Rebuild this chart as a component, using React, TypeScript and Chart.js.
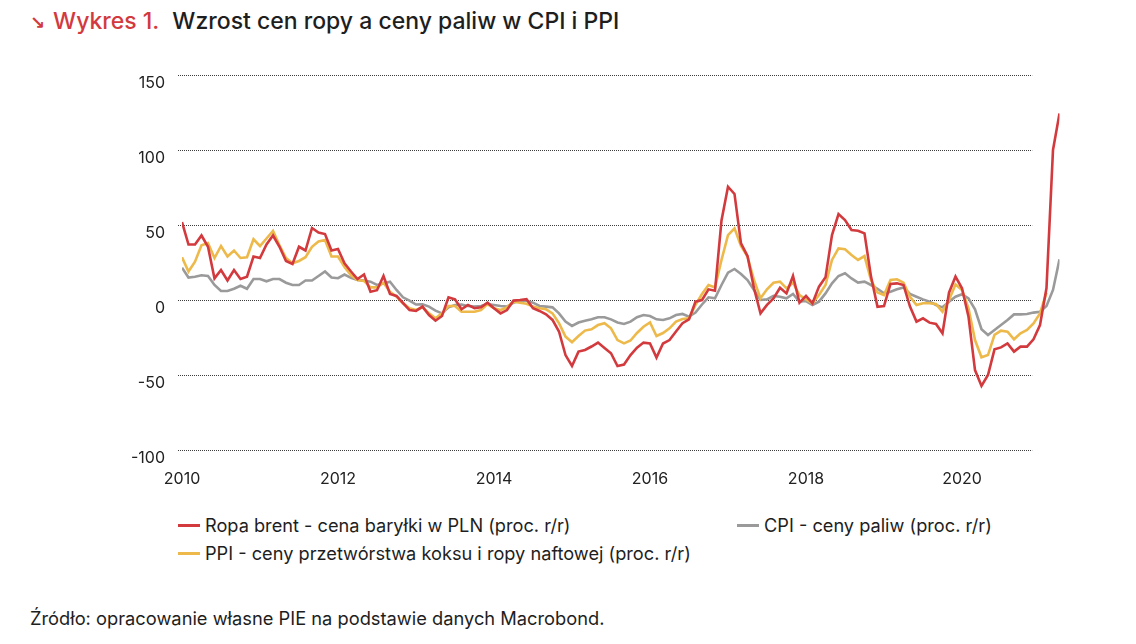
import React, { useEffect, useRef } from "react";
import { Chart, registerables } from "chart.js";

Chart.register(...registerables);

// ---- data (monthly, Jan 2010 = index 0) ----
const START_YEAR = 2010;
const yearTicks = [2010, 2012, 2014, 2016, 2018, 2020];
const yTicks = [-100, -50, 0, 50, 100, 150];

const seriesNames = [
  "Ropa brent - cena baryłki w PLN (proc. r/r)",
  "CPI - ceny paliw (proc. r/r)",
  "PPI - ceny przetwórstwa koksu i ropy naftowej (proc. r/r)",
];

const ropa = [
  52, 37, 37, 43, 35.5, 14.4, 20, 13, 20, 14, 15.5, 29,
  28, 37, 43, 35.5, 26, 24, 35.5, 33, 48, 45, 44, 33,
  34, 24.5, 19, 14, 17, 5.5, 6.5, 16, 4, 2.7, -2, -6.7,
  -7.3, -4.4, -10, -13.8, -10.7, 1.8, 0.4, -6.2, -3.3, -5.5, -4.9, -1.8,
  -5.5, -8.9, -6.7, -0.4, 0, 0.5, -5.5, -7.3, -9.5, -13.3, -21, -36.7,
  -44, -34.4, -33.3, -31, -28.4, -32, -35.5, -44, -43, -36.7, -31.8, -28.4,
  -29, -38.4, -29, -26.7, -21, -15.5, -12.9, -1.1, 0, 7.1, 6.2, 53,
  75.5, 70.7, 37.8, 29.3, 7.8, -8.9, -3.3, 1.1, 8.2, 4.4, 16, -1.8,
  2.7, -2.2, 8.9, 15.1, 43.3, 57.3, 53.3, 46.7, 46.2, 44.4, 15.6, -4.5,
  -4, 10.7, 11.1, 10, -4.4, -14.4, -12.2, -15.1, -16, -22.2, 4.9, 15.6,
  7.8, -11.1, -46.7, -57.3, -50, -32.9, -31.6, -28.9, -34.4, -31.1, -31.1, -26.2,
  -16.7, 8, 100, 124.4,
];

const cpi = [
  21.5, 15, 15.5, 16.5, 16, 10, 6, 6, 7.5, 9.5, 7.5, 14,
  14, 12.5, 14, 14, 11.5, 10, 10, 13, 13, 16, 19, 15,
  14.5, 17, 14.8, 13.3, 12.9, 12.2, 10, 11, 12.2, 6.7, 1.8, -0.4,
  -3, -2.9, -4.4, -7.1, -8.9, -4.9, -3.3, -3.1, -4, -4.4, -4, -2.7,
  -3.3, -4, -4.4, -1.8, -0.4, -0.5, -1.8, -4, -4.4, -4.9, -8.9, -14.4,
  -17.3, -15, -13.8, -12.9, -11.5, -11.5, -12.9, -15, -16, -14.4, -11.5, -10,
  -10.7, -12.9, -13.3, -12.2, -10, -9.3, -11.1, -8.4, -3, 1.8, 1.1, 10,
  18.2, 20.7, 17.3, 13.3, 6.7, 0, 0.4, 2.7, 2.2, 1.1, 4, -1.1,
  -0.7, -3.3, -1.1, 4.4, 11.1, 16, 17.8, 14.4, 11.6, 12.2, 10, 7.5,
  4.4, 5.5, 7.1, 8.4, 4, 2.2, 0.4, -1.1, -3.3, -4.9, -1.1, 2.2,
  3.8, 1.1, -6.2, -19.5, -23.3, -20, -16.7, -13.3, -9.6, -9.6, -9.3, -8.4,
  -7.8, -4, 6.7, 27.1,
];

const ppi = [
  28.5, 19, 25.5, 36.5, 38, 28, 36, 29, 33, 28, 28.5, 40.5,
  36, 41, 46, 36.5, 28, 24.5, 26, 28.5, 35.5, 39, 40, 29,
  29, 22, 16.5, 13.3, 12.7, 8.4, 8.4, 11.5, 5.5, 2.2, -2.2, -5.5,
  -6.7, -4.9, -8.9, -12.2, -8.9, -4, -4, -7.8, -7.8, -7.8, -6.7, -2.7,
  -5.5, -6.7, -4.9, -1.1, -1.8, -2.5, -4.4, -5.5, -6.2, -8.9, -15.5, -24.4,
  -28.2, -24, -20.4, -19.5, -16.7, -15.5, -18.9, -26.7, -28.9, -27, -22, -17.8,
  -15, -24, -22, -18.9, -14.4, -12.7, -12.2, -3.3, 4, 10, 8.4, 26.7,
  43.3, 47.8, 36, 28.9, 13.3, 1.1, 7.1, 11.5, 12.2, 7.8, 11.5, 3.3,
  0.4, -2.2, 3.3, 10, 26.7, 34.4, 33.8, 30, 26.7, 29.3, 13.3, 5,
  3.3, 13.3, 13.8, 11.6, 2.2, -3.3, -2.2, -2.2, -2.7, -7.8, 0, 10.4,
  6.7, -5.5, -26.7, -38.2, -36.7, -23.3, -20.4, -21.1, -26.2, -22.2, -20, -15.6,
  -8.9, 5,
];

const RED = "#d23a3e";
const GREY = "#9a9a9a";
const YELLOW = "#edb94a";
const FONT = "Inter, Roboto, 'Noto Sans', sans-serif";

const toPoints = (arr: number[]) => arr.map((v, i) => ({ x: i, y: v }));

const dottedGrid = {
  id: "dottedGrid",
  beforeDatasetsDraw(chart: any) {
    const { ctx, chartArea, scales } = chart;
    const ys = scales.y;
    const xs = scales.x;
    const x0 = chartArea.left - 4;
    const x1 = xs.getPixelForValue(130.8);
    ctx.save();
    ctx.strokeStyle = "#3c3c3c";
    ctx.lineWidth = 1;
    ctx.setLineDash([1, 1]);
    ys.ticks.forEach((t: any) => {
      const py = Math.round(ys.getPixelForValue(t.value)) + 0.5;
      ctx.beginPath();
      ctx.moveTo(x0, py);
      ctx.lineTo(x1, py);
      ctx.stroke();
    });
    ctx.restore();
  },
};

function LegendItem({ color, label, left, top }: { color: string; label: string; left: number; top: number }) {
  return (
    <div style={{ position: "absolute", left, top, display: "flex", alignItems: "center", height: 24 }}>
      <div style={{ width: 22, height: 3, background: color, marginRight: 5 }} />
      <span style={{ fontFamily: FONT, fontSize: 18.2, color: "#1e1e1e", whiteSpace: "nowrap" }}>{label}</span>
    </div>
  );
}

export default function App() {
  const canvasRef = useRef<HTMLCanvasElement | null>(null);

  useEffect(() => {
    if (!canvasRef.current) return;
    const chart = new Chart(canvasRef.current, {
      type: "line",
      data: {
        datasets: [
          { label: seriesNames[0], data: toPoints(ropa), borderColor: RED, borderWidth: 2.6, pointRadius: 0, tension: 0, order: 0 },
          { label: seriesNames[1], data: toPoints(cpi), borderColor: GREY, borderWidth: 2.6, pointRadius: 0, tension: 0, order: 2 },
          { label: seriesNames[2], data: toPoints(ppi), borderColor: YELLOW, borderWidth: 2.6, pointRadius: 0, tension: 0, order: 1 },
        ],
      },
      options: {
        animation: false,
        responsive: false,
        devicePixelRatio: 1,
        layout: { padding: { top: 75, right: 76.5, left: 0, bottom: 0 } },
        plugins: { legend: { display: false }, title: { display: false }, tooltip: { enabled: false } },
        scales: {
          x: {
            type: "linear",
            min: 0,
            max: 135,
            grid: { display: false, drawTicks: false },
            border: { display: false },
            afterBuildTicks: (scale: any) => {
              scale.ticks = yearTicks.map((y) => ({ value: (y - START_YEAR) * 12 }));
            },
            afterFit: (scale: any) => {
              scale.height = 50;
            },
            ticks: {
              padding: 20,
              maxRotation: 0,
              autoSkip: false,
              color: "#222",
              font: { family: FONT, size: 16 },
              callback: (v: any) => String(START_YEAR + Number(v) / 12),
            },
          },
          y: {
            min: -100,
            max: 150,
            grid: { display: false, drawTicks: false },
            border: { display: false },
            afterBuildTicks: (scale: any) => {
              scale.ticks = yTicks.map((v) => ({ value: v }));
            },
            afterFit: (scale: any) => {
              scale.width = 182;
            },
            ticks: {
              padding: 17,
              labelOffset: 8,
              color: "#222",
              font: { family: FONT, size: 16 },
            },
          },
        },
      },
      plugins: [dottedGrid],
    } as any);
    return () => chart.destroy();
  }, []);

  return (
    <div style={{ position: "absolute", left: 0, top: 0, width: 1136, height: 644, background: "#fff", overflow: "hidden" }}>
      <div style={{ position: "absolute", left: 30, top: 7, display: "flex", alignItems: "baseline", fontFamily: FONT, fontSize: 23, fontWeight: 500, whiteSpace: "nowrap" }}>
        <span style={{ color: RED, fontFamily: "'DejaVu Sans', sans-serif", fontWeight: 700, fontSize: 18, marginRight: 8 }}>↘</span>
        <span style={{ color: RED, marginRight: 13 }}>Wykres 1.</span>
        <span style={{ color: "#1e1e1e" }}>Wzrost cen ropy a ceny paliw w CPI i PPI</span>
      </div>
      <canvas ref={canvasRef} width={1136} height={500} style={{ position: "absolute", left: 0, top: 0, width: 1136, height: 500 }} />
      <LegendItem color={RED} label={seriesNames[0]} left={178} top={513} />
      <LegendItem color={GREY} label={seriesNames[1]} left={737} top={513} />
      <LegendItem color={YELLOW} label={seriesNames[2]} left={178} top={541} />
      <div style={{ position: "absolute", left: 30, top: 607, fontFamily: FONT, fontSize: 18.3, color: "#1e1e1e", whiteSpace: "nowrap" }}>
        Źródło: opracowanie własne PIE na podstawie danych Macrobond.
      </div>
    </div>
  );
}
